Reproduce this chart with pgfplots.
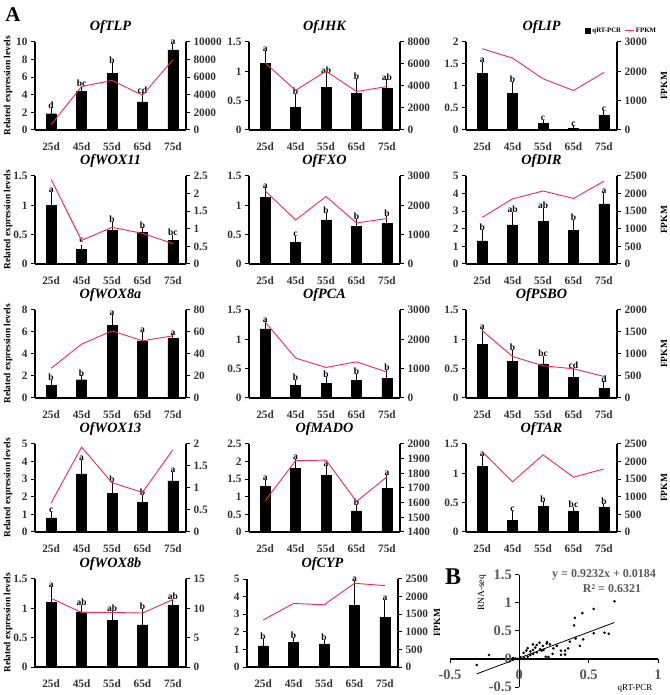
\documentclass[border=0pt]{standalone}
\usepackage{fontspec}
\setmainfont{Liberation Serif}
\usepackage{pgfplots}
\pgfplotsset{compat=1.18}
\definecolor{fpred}{RGB}{232,45,90}
\definecolor{tk}{RGB}{50,50,50}
\definecolor{tkb}{RGB}{89,89,89}
\newcommand{\tkfont}{\bfseries\fontsize{11.3}{12}\selectfont}
\pgfplotsset{
 base/.style={scale only axis, width=151pt, height=88pt, xmin=-0.53, xmax=4.43, clip=false,
   axis line style={line width=1.1pt}, major tick length=4pt, tick align=outside,
   tick style={black, line width=1pt},
   tick label style={font=\tkfont, text=tk},
   /pgf/number format/assume math mode=true, /pgf/number format/1000 sep={},
   scaled y ticks=false},
 L/.style={base, axis y line*=left, axis x line*=bottom, ymin=0, xtick={0,1,2,3,4},
   xticklabels={25d,45d,55d,65d,75d}, xtick style={draw=none}, xticklabel style={yshift=-5pt},
   title style={font=\bfseries\itshape\fontsize{14.2}{15}\selectfont, at={(0.5,1)}, anchor=south, yshift=-1.5pt}},
 R/.style={base, axis y line*=right, axis x line=none},
 bars/.style={ybar, bar width=10pt, fill=black, draw=black,
   error bars/y dir=plus, error bars/y explicit, error bars/error bar style={line width=0.9pt, black},
   error bars/error mark options={line width=0.9pt, mark size=2pt, black}},
 lets/.style={draw=none, mark=none, nodes near coords, point meta=explicit symbolic,
   nodes near coords style={font=\bfseries\fontsize{9.5}{10}\selectfont, anchor=south, inner sep=1pt}},
 fp/.style={draw=fpred, line width=0.9pt, mark=none},
}
\newcommand{\ylab}[1]{\node[rotate=90, font=\bfseries\fontsize{9.4}{10}\selectfont] at (8pt,#1) {Related expression levels};}
\newcommand{\fpkm}[2]{\node[rotate=90, font=\bfseries\fontsize{9.5}{10}\selectfont] at (#1,#2) {FPKM};}
\begin{document}
\begin{tikzpicture}
\useasboundingbox (0,0) rectangle (669pt,695pt);
\node[font=\bfseries\fontsize{21}{22}\selectfont] at (13pt,680pt) {A};
% ---------------- Row 1
\begin{axis}[L, at={(35pt,565pt)}, ymax=10, ytick={0,2,...,10}, title={OfTLP}]
\addplot[bars] coordinates {(0,1.85)+-(0,0.43) (1,4.4)+-(0,0.4) (2,6.45)+-(0,1.0) (3,3.2)+-(0,0.85) (4,9.1)+-(0,0.5)};
\addplot[lets] coordinates {(0,2.28)[d] (1,4.8)[bc] (2,7.45)[b] (3,4.05)[cd] (4,9.6)[a]};
\end{axis}
\begin{axis}[R, at={(35pt,565pt)}, ymin=0, ymax=10000, ytick={0,2000,...,10000}]
\addplot[fp] coordinates {(0,620) (1,4940) (2,5630) (3,3950) (4,7980)};
\end{axis}
\begin{axis}[L, at={(249pt,565pt)}, ymax=1.5, ytick={0,0.5,1,1.5}, title={OfJHK}]
\addplot[bars] coordinates {(0,1.14)+-(0,0.18) (1,0.39)+-(0,0.19) (2,0.73)+-(0,0.21) (3,0.62)+-(0,0.22) (4,0.71)+-(0,0.12)};
\addplot[lets] coordinates {(0,1.32)[a] (1,0.58)[b] (2,0.94)[ab] (3,0.84)[b] (4,0.83)[ab]};
\end{axis}
\begin{axis}[R, at={(249pt,565pt)}, ymin=0, ymax=8000, ytick={0,2000,...,8000}]
\addplot[fp] coordinates {(0,6100) (1,3600) (2,5350) (3,3500) (4,3950)};
\end{axis}
\begin{axis}[L, at={(466pt,565pt)}, ymax=2, ytick={0,0.5,1,1.5,2}, title={OfLIP},
  legend style={at={(1.03,1.13)}, anchor=center, draw=none, fill=none, inner sep=0pt,
   font=\bfseries\fontsize{6.8}{7}\selectfont, legend columns=2,
   /tikz/every even column/.append style={column sep=1pt}}]
\addplot[forget plot, bars] coordinates {(0,1.29)+-(0,0.21) (1,0.84)+-(0,0.2) (2,0.15)+-(0,0.04) (3,0.04)+-(0,0.02) (4,0.33)+-(0,0.06)};
\addplot[forget plot, lets] coordinates {(0,1.5)[a] (1,1.04)[b] (2,0.19)[c] (3,0.06)[c] (4,0.39)[c]};
\addlegendimage{legend image code/.code={\fill[black] (0pt,-2.5pt) rectangle (5pt,2.5pt);}}
\addlegendentry{qRT-PCR}
\addlegendimage{legend image code/.code={\draw[fpred, line width=0.9pt] (0pt,0pt) -- (9pt,0pt);}}
\addlegendentry{FPKM}
\end{axis}
\begin{axis}[R, at={(466pt,565pt)}, ymin=0, ymax=3000, ytick={0,1000,2000,3000}]
\addplot[fp] coordinates {(0,2770) (1,2450) (2,1745) (3,1346) (4,1960)};
\end{axis}
% ---------------- Row 2
\begin{axis}[L, at={(35pt,431pt)}, ymax=1.5, ytick={0,0.5,1,1.5}, title={OfWOX11}]
\addplot[bars] coordinates {(0,1.0)+-(0,0.2) (1,0.25)+-(0,0.04) (2,0.57)+-(0,0.11) (3,0.54)+-(0,0.05) (4,0.4)+-(0,0.06)};
\addplot[lets] coordinates {(0,1.2)[a] (1,0.34)[c] (2,0.68)[b] (3,0.59)[b] (4,0.46)[bc]};
\end{axis}
\begin{axis}[R, at={(35pt,431pt)}, ymin=0, ymax=2.5, ytick={0,0.5,...,2.5}]
\addplot[fp] coordinates {(0,2.4) (1,0.67) (2,1.04) (3,0.87) (4,0.58)};
\end{axis}
\begin{axis}[L, at={(249pt,431pt)}, ymax=1.5, ytick={0,0.5,1,1.5}, title={OfFXO}]
\addplot[bars] coordinates {(0,1.14)+-(0,0.13) (1,0.37)+-(0,0.08) (2,0.75)+-(0,0.09) (3,0.64)+-(0,0.09) (4,0.69)+-(0,0.09)};
\addplot[lets] coordinates {(0,1.27)[a] (1,0.45)[c] (2,0.84)[b] (3,0.73)[b] (4,0.78)[b]};
\end{axis}
\begin{axis}[R, at={(249pt,431pt)}, ymin=0, ymax=3000, ytick={0,1000,2000,3000}]
\addplot[fp] coordinates {(0,2500) (1,1500) (2,2300) (3,1400) (4,1550)};
\end{axis}
\begin{axis}[L, at={(466pt,431pt)}, ymax=5, ytick={0,1,...,5}, title={OfDIR}]
\addplot[bars] coordinates {(0,1.31)+-(0,0.52) (1,2.22)+-(0,0.61) (2,2.43)+-(0,0.64) (3,1.91)+-(0,0.5) (4,3.41)+-(0,0.55)};
\addplot[lets] coordinates {(0,1.83)[b] (1,2.83)[ab] (2,3.07)[ab] (3,2.41)[b] (4,3.96)[a]};
\end{axis}
\begin{axis}[R, at={(466pt,431pt)}, ymin=0, ymax=2500, ytick={0,500,...,2500}]
\addplot[fp] coordinates {(0,1324) (1,1852) (2,2074) (3,1861) (4,2352)};
\end{axis}
% ---------------- Row 3
\begin{axis}[L, at={(35pt,297pt)}, ymax=8, ytick={0,2,...,8}, title={OfWOX8a}]
\addplot[bars] coordinates {(0,1.15)+-(0,0.3) (1,1.66)+-(0,0.21) (2,6.6)+-(0,0.8) (3,5.2)+-(0,0.6) (4,5.4)+-(0,0.2)};
\addplot[lets] coordinates {(0,1.45)[b] (1,1.87)[b] (2,7.4)[a] (3,5.8)[a] (4,5.6)[a]};
\end{axis}
\begin{axis}[R, at={(35pt,297pt)}, ymin=0, ymax=80, ytick={0,20,...,80}]
\addplot[fp] coordinates {(0,27) (1,49) (2,61) (3,52) (4,56.5)};
\end{axis}
\begin{axis}[L, at={(249pt,297pt)}, ymax=1.5, ytick={0,0.5,1,1.5}, title={OfPCA}]
\addplot[bars] coordinates {(0,1.18)+-(0,0.09) (1,0.21)+-(0,0.06) (2,0.25)+-(0,0.08) (3,0.3)+-(0,0.07) (4,0.34)+-(0,0.1)};
\addplot[lets] coordinates {(0,1.27)[a] (1,0.27)[b] (2,0.33)[b] (3,0.37)[b] (4,0.44)[b]};
\end{axis}
\begin{axis}[R, at={(249pt,297pt)}, ymin=0, ymax=3000, ytick={0,1000,2000,3000}]
\addplot[fp] coordinates {(0,2593) (1,1359) (2,1042) (3,1234) (4,883)};
\end{axis}
\begin{axis}[L, at={(466pt,297pt)}, ymax=1.5, ytick={0,0.5,1,1.5}, title={OfPSBO}]
\addplot[bars] coordinates {(0,0.92)+-(0,0.22) (1,0.62)+-(0,0.17) (2,0.58)+-(0,0.11) (3,0.35)+-(0,0.13) (4,0.17)+-(0,0.08)};
\addplot[lets] coordinates {(0,1.14)[a] (1,0.79)[b] (2,0.69)[bc] (3,0.48)[cd] (4,0.25)[d]};
\end{axis}
\begin{axis}[R, at={(466pt,297pt)}, ymin=0, ymax=2000, ytick={0,500,...,2000}]
\addplot[fp] coordinates {(0,1532) (1,943) (2,732) (3,664) (4,491)};
\end{axis}
% ---------------- Row 4
\begin{axis}[L, at={(35pt,163pt)}, ymax=5, ytick={0,1,...,5}, title={OfWOX13}]
\addplot[bars] coordinates {(0,0.8)+-(0,0.23) (1,3.3)+-(0,0.7) (2,2.18)+-(0,0.56) (3,1.7)+-(0,0.31) (4,2.9)+-(0,0.4)};
\addplot[lets] coordinates {(0,1.03)[c] (1,4.0)[a] (2,2.74)[b] (3,2.01)[b] (4,3.3)[a]};
\end{axis}
\begin{axis}[R, at={(35pt,163pt)}, ymin=0, ymax=2, ytick={0,0.5,...,2}]
\addplot[fp] coordinates {(0,0.66) (1,1.93) (2,1.12) (3,0.9) (4,1.87)};
\end{axis}
\begin{axis}[L, at={(249pt,163pt)}, ymax=2.5, ytick={0,0.5,...,2.5}, title={OfMADO}]
\addplot[bars] coordinates {(0,1.3)+-(0,0.13) (1,1.8)+-(0,0.22) (2,1.6)+-(0,0.22) (3,0.6)+-(0,0.12) (4,1.23)+-(0,0.33)};
\addplot[lets] coordinates {(0,1.43)[a] (1,2.02)[a] (2,1.82)[a] (3,0.72)[b] (4,1.56)[a]};
\end{axis}
\begin{axis}[R, at={(249pt,163pt)}, ymin=1400, ymax=2000, ytick={1400,1500,...,2000}]
\addplot[fp] coordinates {(0,1613) (1,1886) (2,1890) (3,1608) (4,1776)};
\end{axis}
\begin{axis}[L, at={(466pt,163pt)}, ymax=1.5, ytick={0,0.5,1,1.5}, title={OfTAR}]
\addplot[bars] coordinates {(0,1.12)+-(0,0.14) (1,0.2)+-(0,0.12) (2,0.44)+-(0,0.04) (3,0.36)+-(0,0.04) (4,0.42)+-(0,0.03)};
\addplot[lets] coordinates {(0,1.26)[a] (1,0.32)[c] (2,0.48)[b] (3,0.40)[bc] (4,0.45)[b]};
\end{axis}
\begin{axis}[R, at={(466pt,163pt)}, ymin=0, ymax=2500, ytick={0,500,...,2500}]
\addplot[fp] coordinates {(0,2285) (1,1427) (2,2192) (3,1558) (4,1791)};
\end{axis}
% ---------------- Row 5
\begin{axis}[L, at={(35pt,28pt)}, ymax=1.5, ytick={0,0.5,1,1.5}, title={OfWOX8b}]
\addplot[bars] coordinates {(0,1.1)+-(0,0.23) (1,0.94)+-(0,0.08) (2,0.8)+-(0,0.12) (3,0.72)+-(0,0.23) (4,1.05)+-(0,0.07)};
\addplot[lets] coordinates {(0,1.33)[a] (1,1.02)[ab] (2,0.92)[ab] (3,0.95)[b] (4,1.12)[ab]};
\end{axis}
\begin{axis}[R, at={(35pt,28pt)}, ymin=0, ymax=15, ytick={0,5,10,15}]
\addplot[fp] coordinates {(0,11.7) (1,9.3) (2,9.3) (3,9.2) (4,11.5)};
\end{axis}
\begin{axis}[L, at={(247pt,28pt)}, ymax=5, ytick={0,1,...,5}, title={OfCYP}]
\addplot[bars] coordinates {(0,1.2)+-(0,0.3) (1,1.41)+-(0,0.11) (2,1.32)+-(0,0.11) (3,3.5)+-(0,1.26) (4,2.84)+-(0,0.88)};
\addplot[lets] coordinates {(0,1.5)[b] (1,1.52)[b] (2,1.43)[b] (3,4.76)[a] (4,3.72)[a]};
\end{axis}
\begin{axis}[R, at={(247pt,28pt)}, ymin=0, ymax=2500, ytick={0,500,...,2500}]
\addplot[fp] coordinates {(0,1335) (1,1805) (2,1767) (3,2378) (4,2312)};
\end{axis}
% ---------------- side labels
\ylab{609pt}\ylab{475pt}\ylab{341pt}\ylab{207pt}\ylab{72pt}
\fpkm{664pt}{609pt}\fpkm{664pt}{475pt}\fpkm{664pt}{341pt}\fpkm{664pt}{207pt}\fpkm{437pt}{72pt}
% ---------------- Panel B
\node[font=\bfseries\fontsize{24}{25}\selectfont] at (453pt,118pt) {B};
\begin{axis}[scale only axis, at={(450pt,8pt)}, anchor=south west, width=208pt, height=112pt,
  xmin=-0.5, xmax=1, ymin=-0.5, ymax=1.5, axis lines=middle,
  every inner x axis line/.append style={-}, every inner y axis line/.append style={-},
  axis line style={-, line width=1.2pt},
  xtick={-0.5,0,0.5,1}, ytick={-0.5,0,0.5,1,1.5},
  hide obscured x ticks=false, hide obscured y ticks=false,
  major tick length=4pt, tick align=outside, tick style={black, line width=1pt},
  tick label style={font=\bfseries\fontsize{14.5}{15}\selectfont, text=tkb},
  xticklabel style={yshift=-3pt},
  /pgf/number format/assume math mode=true, clip=false]
\addplot[black, line width=0.8pt] coordinates {(-0.307,-0.265) (0.686,0.652)};
\addplot[only marks, mark=*, mark size=1.1pt, black] coordinates {
(0.686,1.03) (0.536,0.894) (0.455,0.82) (0.40,0.735) (0.395,0.60) (0.536,0.46) (0.614,0.47) (0.645,0.45)
(0.46,0.35) (0.436,0.235) (0.407,0.365) (0.364,0.31) (0.352,0.19) (0.33,0.15) (0.30,0.15) (0.33,0.08)
(0.30,0.075) (0.27,0.235) (0.245,0.19) (0.24,0.09) (0.22,0.26) (0.20,0.30) (0.19,0.04) (0.21,0.035)
(0.17,0.235) (0.16,0.15) (0.145,0.29) (0.126,0.25) (0.114,0.205) (0.098,0.26) (0.098,0.16) (0.079,0.135)
(0.06,0.195) (0.05,0.15) (0.031,0.11) (0.06,0.04) (0.036,0.018) (0.007,0.03) (-0.012,0.0) (-0.029,0.01)
(-0.045,0.018) (-0.219,0.07) (-0.307,-0.106) (0.126,0.118) (0.15,0.176) (0.174,0.16) (0.198,0.276)
(0.079,0.07) (0.1,0.088)};
\end{axis}
\node[rotate=90, font=\fontsize{9.5}{10}\selectfont] at (482pt,102pt) {RNA-seq};
\node[font=\fontsize{9}{10}\selectfont] at (635pt,7pt) {qRT-PCR};
\node[font=\bfseries\fontsize{12}{13}\selectfont, text=tkb] at (604pt,120pt) {y = 0.9232x + 0.0184};
\node[font=\bfseries\fontsize{12}{13}\selectfont, text=tkb] at (612pt,106pt) {R² = 0.6321};
\end{tikzpicture}
\end{document}
